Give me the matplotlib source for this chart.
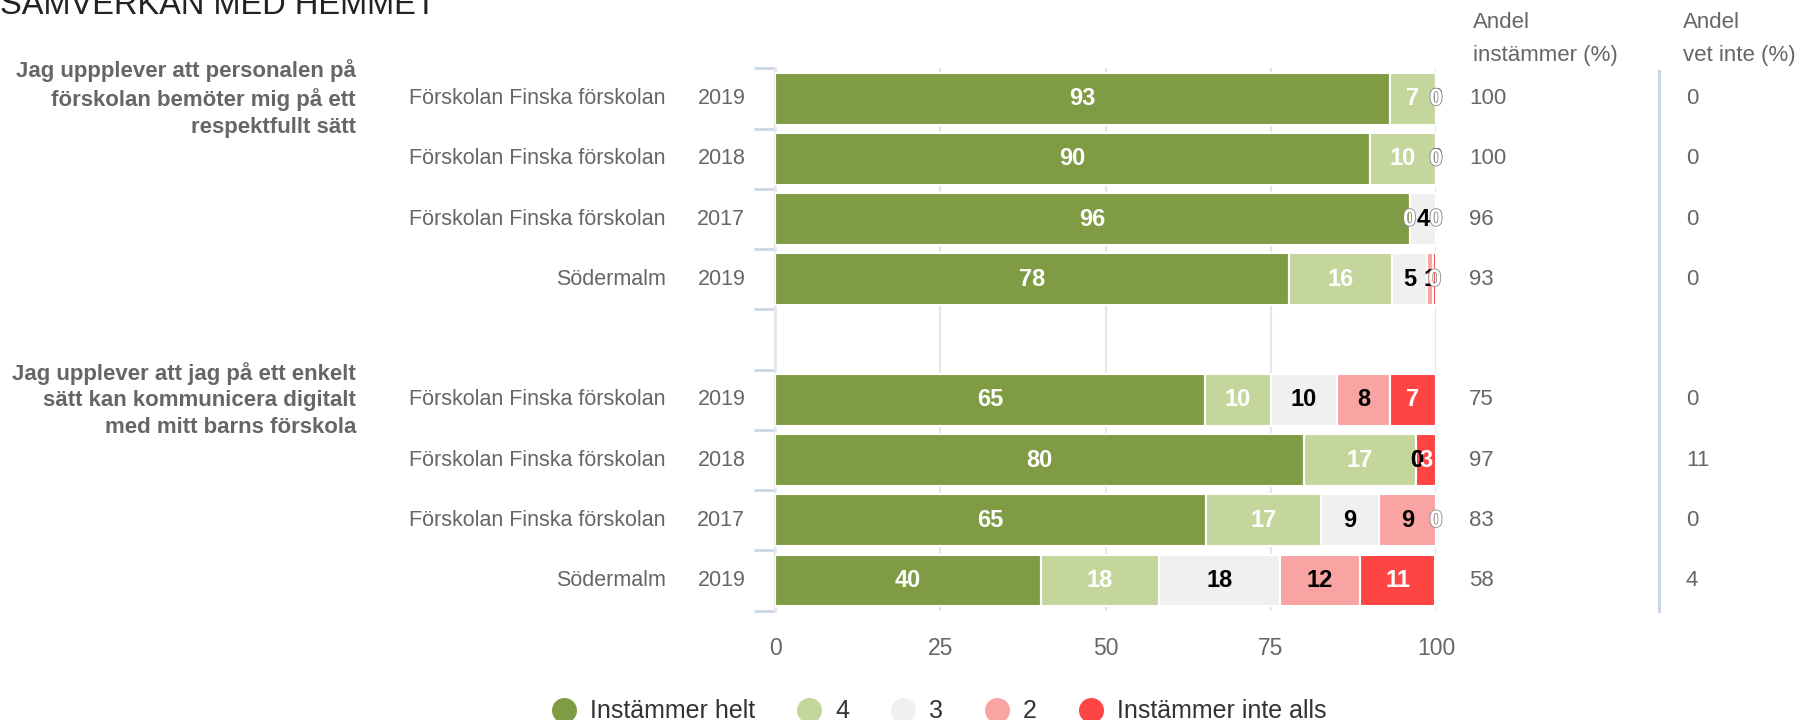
import numpy as np
import matplotlib
matplotlib.use('Agg')
import matplotlib.pyplot as plt
import matplotlib.patheffects as pe
from matplotlib.lines import Line2D

plt.rcParams['font.family'] = ['Liberation Sans', 'DejaVu Sans']

title = 'SAMVERKAN MED HEMMET'
questions = ['Jag uppplever att personalen på\nförskolan bemöter mig på ett\nrespektfullt sätt',
             'Jag upplever att jag på ett enkelt\nsätt kan kommunicera digitalt\nmed mitt barns förskola']
units = ['Förskolan Finska förskolan', 'Förskolan Finska förskolan',
         'Förskolan Finska förskolan', 'Södermalm']
years = ['2019', '2018', '2017', '2019']

categories = ['Instämmer helt', '4', '3', '2', 'Instämmer inte alls']
colors = ['#7f9c44', '#c5d69d', '#f0f0f0', '#faa3a3', '#ff4444']
label_colors = ['white', 'white', 'black', 'black', 'white']

# shares per category (%), one row per bar
q1 = [[93, 7, 0, 0, 0],
      [90, 10, 0, 0, 0],
      [96, 0, 4, 0, 0],
      [77.8, 15.6, 5.3, 0.9, 0.4]]
q2 = [[65, 10, 10, 8, 7],
      [80, 17, 0, 0, 3],
      [65.2, 17.4, 8.7, 8.7, 0],
      [40.2, 17.9, 18.3, 12.1, 11.4]]

andel_instammer = [[100, 100, 96, 93], [75, 97, 83, 58]]
andel_vet_inte = [[0, 0, 0, 0], [0, 11, 0, 4]]

fig = plt.figure(figsize=(18.1, 7.2), dpi=100)
ax = fig.add_axes([0.4282, 0.1518, 0.3652, 0.7531])

grey = '#666666'
fs = 15.5

rows = []
for g, data in enumerate([q1, q2]):
    for k, vals in enumerate(data):
        rows.append((g * 5 + k, g, k, vals))

for y, g, k, vals in rows:
    left = 0
    for c, v in enumerate(vals):
        ax.barh(y, v, left=left, height=0.86, color=colors[c],
                edgecolor='white', linewidth=1.5, zorder=3)
        t = ax.text(left + v / 2, y, '%d' % round(v), ha='center', va='center',
                    fontsize=17, fontweight='bold', color=label_colors[c], zorder=5)
        if label_colors[c] == 'white' and round(v) == 0:
            t.set_path_effects([pe.withStroke(linewidth=1.2, foreground='#888888')])
        left += v
    ax.text(-0.165, y, units[k], transform=ax.get_yaxis_transform(),
            ha='right', va='center', fontsize=fs, color=grey)
    ax.text(-0.045, y, years[k], transform=ax.get_yaxis_transform(),
            ha='right', va='center', fontsize=fs, color=grey)
    ax.text(1.05, y, str(andel_instammer[g][k]), transform=ax.get_yaxis_transform(),
            ha='left', va='center', fontsize=16, color=grey)
    ax.text(1.378, y, str(andel_vet_inte[g][k]), transform=ax.get_yaxis_transform(),
            ha='left', va='center', fontsize=16, color=grey)

for g, q in enumerate(questions):
    ax.text(-0.634, g * 5, q, transform=ax.get_yaxis_transform(),
            ha='right', va='center', fontsize=16, fontweight='bold',
            color=grey, linespacing=1.35)

ax.set_xlim(0, 100)
ax.set_ylim(8.5, -0.5)
ax.set_xticks([0, 25, 50, 75, 100])
ax.tick_params(axis='x', length=0, pad=19, labelsize=16.5, labelcolor=grey)
ax.set_yticks([])
ax.set_yticks(np.arange(-0.5, 9, 1), minor=True)
ax.tick_params(axis='y', which='minor', length=15, width=2, color='#ccd6eb')
ax.grid(axis='x', color='#e6e6e6', linewidth=1.5, zorder=0)
for s in ['top', 'right', 'bottom']:
    ax.spines[s].set_visible(False)
ax.spines['left'].set_color('#e6e6e6')
ax.spines['left'].set_linewidth(2)

# separator between the two extra columns
ax.plot([1.337, 1.337], [0, 0.995], transform=ax.transAxes, color='#ccd6eb',
        linewidth=2.2, clip_on=False)

ax.text(1.056, 1.004, 'Andel\ninstämmer (%)', transform=ax.transAxes,
        ha='left', va='bottom', fontsize=16, color=grey, linespacing=1.75)
ax.text(1.374, 1.004, 'Andel\nvet inte (%)', transform=ax.transAxes,
        ha='left', va='bottom', fontsize=16, color=grey, linespacing=1.75)

fig.text(0.0, 0.9806, title, ha='left', va='baseline', fontsize=23.5, color='#222222')

handles = [Line2D([], [], marker='o', linestyle='', markersize=17,
                  markerfacecolor=c, markeredgecolor=c) for c in colors]
fig.legend(handles, categories, loc='center', bbox_to_anchor=(0.519, 0.012),
           ncol=5, frameon=False, fontsize=18, labelcolor='#333333',
           handlelength=0.9, handletextpad=0.6, columnspacing=1.7,
           borderpad=0, borderaxespad=0)

fig.savefig('out.png', dpi=100)
